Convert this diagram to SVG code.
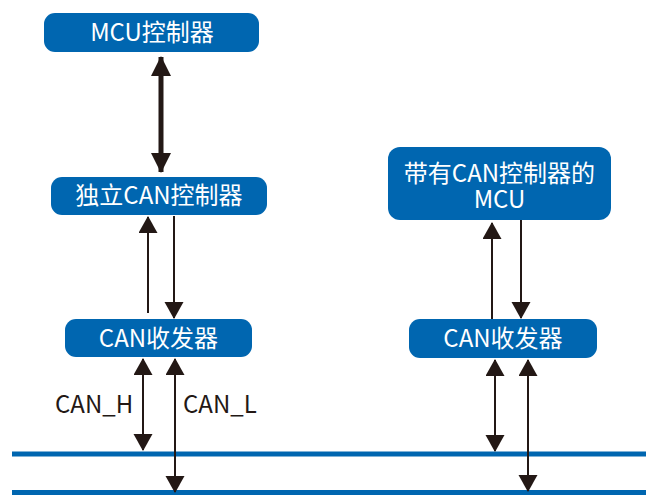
<svg xmlns="http://www.w3.org/2000/svg" width="646" height="495" viewBox="0 0 646 495">
<style>
.box{fill:#0066b0;}
.t{font-family:"Noto Sans CJK SC","Noto Sans",sans-serif;font-size:24px;fill:#ffffff;text-anchor:middle;}
.lbl{font-family:"Noto Sans CJK SC","Noto Sans",sans-serif;font-size:24px;fill:#231815;}
.ln{stroke:#231815;stroke-width:2;fill:none;}
.thick{stroke:#231815;stroke-width:5;fill:none;}
.bus{stroke:#0066b0;stroke-width:5;}
</style>
<defs>
<marker id="ah" markerUnits="userSpaceOnUse" markerWidth="18" markerHeight="20" refX="16" refY="9.5" orient="auto-start-reverse" viewBox="0 0 18 20">
<path d="M0,0 L17,9.5 L0,19 z" fill="#231815"/>
</marker>
<marker id="ahb" markerUnits="userSpaceOnUse" markerWidth="22" markerHeight="22" refX="19" refY="10" orient="auto-start-reverse" viewBox="0 0 22 22">
<path d="M0,0 L20,10 L0,20 z" fill="#231815"/>
</marker>
</defs>
<g id="bus">
<line class="bus" x1="12" y1="454" x2="646" y2="454"/>
<line class="bus" x1="12" y1="492.5" x2="646" y2="492.5"/>
</g>
<g id="connectors">
<line class="thick" x1="161" y1="57" x2="161" y2="172" marker-start="url(#ahb)" marker-end="url(#ahb)"/>
<line class="ln" x1="148" y1="313" x2="148" y2="217" marker-end="url(#ah)"/>
<line class="ln" x1="174" y1="216" x2="174" y2="318" marker-end="url(#ah)"/>
<line class="ln" x1="143" y1="359" x2="143" y2="450" marker-start="url(#ah)" marker-end="url(#ah)"/>
<line class="ln" x1="175" y1="359" x2="175" y2="492" marker-start="url(#ah)" marker-end="url(#ah)"/>
<line class="ln" x1="492" y1="319" x2="492" y2="223" marker-end="url(#ah)"/>
<line class="ln" x1="521" y1="220" x2="521" y2="318" marker-end="url(#ah)"/>
<line class="ln" x1="495" y1="360" x2="495" y2="451" marker-start="url(#ah)" marker-end="url(#ah)"/>
<line class="ln" x1="528" y1="360" x2="528" y2="491" marker-start="url(#ah)" marker-end="url(#ah)"/>
</g>
<g id="mcu">
<rect class="box" x="44" y="13" width="215" height="39" rx="11"/>
<text class="t" x="152" y="41">MCU控制器</text>
</g>
<g id="can-ctrl">
<rect class="box" x="51" y="177" width="216" height="38" rx="11"/>
<text class="t" x="159" y="204">独立CAN控制器</text>
</g>
<g id="transceiver-left">
<rect class="box" x="65" y="319" width="187" height="38" rx="11"/>
<text class="t" x="158.5" y="347">CAN收发器</text>
</g>
<g id="mcu-can">
<rect class="box" x="388" y="147" width="223" height="73" rx="12"/>
<text class="t" x="499.5" y="182">带有CAN控制器的</text>
<text class="t" x="499.5" y="208">MCU</text>
</g>
<g id="transceiver-right">
<rect class="box" x="409" y="319" width="188" height="39" rx="11"/>
<text class="t" x="503" y="347">CAN收发器</text>
</g>
<g id="labels">
<text class="lbl" x="55" y="413">CAN_H</text>
<text class="lbl" x="183" y="413">CAN_L</text>
</g>
</svg>
